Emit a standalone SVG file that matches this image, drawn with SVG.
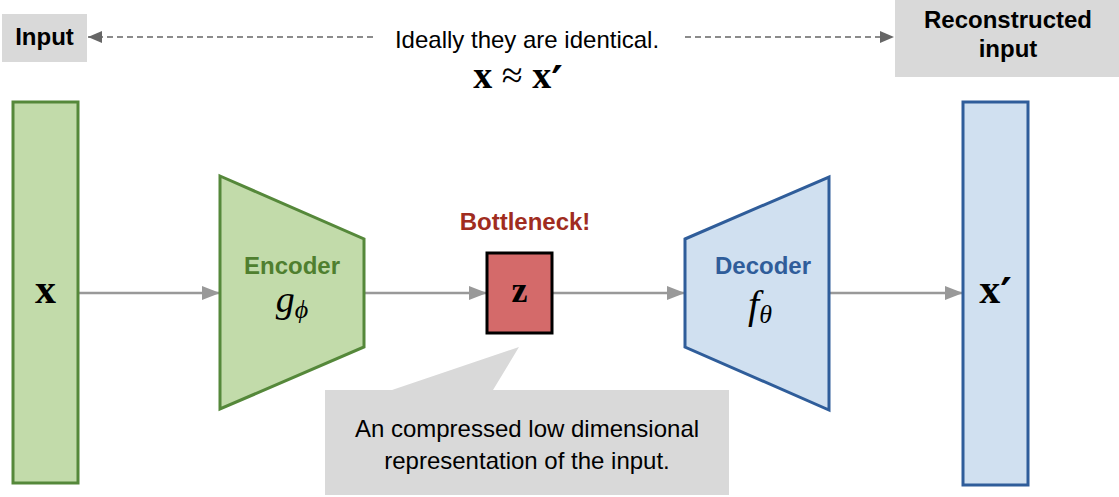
<svg xmlns="http://www.w3.org/2000/svg" width="1119" height="497" viewBox="0 0 1119 497">
<defs>
<marker id="ah" markerWidth="18" markerHeight="14" refX="18" refY="7" orient="auto" markerUnits="userSpaceOnUse"><path d="M0,0 L18,7 L0,14 Z" fill="#999"/></marker>
<marker id="ahd" markerWidth="14" markerHeight="12" refX="14" refY="6" orient="auto" markerUnits="userSpaceOnUse"><path d="M0,0 L14,6 L0,12 Z" fill="#666"/></marker>
</defs>
<style>
.sans{font-family:"Liberation Sans",Arial,sans-serif;font-size:24px}
.b{font-weight:bold}
.math{font-family:"Liberation Serif","Times New Roman",serif}
.pr{font-family:"DejaVu Serif",serif;font-weight:bold}
.lbl{fill:#d9d9d9}
.flow{stroke:#999;stroke-width:2.5;fill:none;marker-end:url(#ah)}
.dash{stroke:#666;stroke-width:1.5;stroke-dasharray:6 4;fill:none;marker-end:url(#ahd)}
</style>
<rect width="1119" height="497" fill="#fff"/>
<g id="connectors">
<line class="flow" x1="78" y1="293" x2="220" y2="293"/>
<line class="flow" x1="364" y1="293" x2="487" y2="293"/>
<line class="flow" x1="552" y1="293" x2="685" y2="293"/>
<line class="flow" x1="829" y1="293" x2="963" y2="293"/>
<line class="dash" x1="373" y1="37" x2="88" y2="37"/>
<line class="dash" x1="685" y1="37" x2="894" y2="37"/>
</g>
<g id="input-label">
<rect class="lbl" x="2" y="14" width="85" height="48"/>
<text class="sans b" x="44.5" y="45" text-anchor="middle" fill="#000">Input</text>
</g>
<g id="recon-label">
<rect class="lbl" x="895" y="0" width="224" height="77"/>
<text class="sans b" x="1008" y="28" text-anchor="middle" fill="#000">Reconstructed</text>
<text class="sans b" x="1008" y="57" text-anchor="middle" fill="#000">input</text>
</g>
<g id="ideal-note">
<text class="sans" x="527" y="48" text-anchor="middle" fill="#000">Ideally they are identical.</text>
<text class="math" x="518" y="88" text-anchor="middle" font-size="38" fill="#000"><tspan font-weight="bold">x</tspan> ≈ <tspan font-weight="bold">x</tspan><tspan class="pr" font-size="44" dy="10">′</tspan></text>
</g>
<g id="input-x">
<rect x="13" y="102" width="65" height="381" fill="#c2dbaa" stroke="#55883a" stroke-width="3"/>
<text class="math" x="45.5" y="303" text-anchor="middle" font-size="42" font-weight="bold" fill="#000">x</text>
</g>
<g id="encoder">
<polygon points="220,176 364,239 364,347 220,409" fill="#c2dbaa" stroke="#55883a" stroke-width="3"/>
<text class="sans b" x="292" y="274" text-anchor="middle" fill="#4f7f2f">Encoder</text>
<text class="math" x="292" y="312" text-anchor="middle" font-style="italic" font-size="38" fill="#000">g<tspan font-size="26" dy="6">ϕ</tspan></text>
</g>
<g id="bottleneck">
<text class="sans b" x="525" y="230" text-anchor="middle" fill="#a02c20">Bottleneck!</text>
<rect x="487" y="253" width="65" height="80" fill="#d46a6a" stroke="#000" stroke-width="3"/>
<text class="math" x="519.5" y="302" text-anchor="middle" font-size="36" font-weight="bold" fill="#000">z</text>
</g>
<g id="decoder">
<polygon points="685,239 829,177 829,410 685,347" fill="#d0e0f0" stroke="#2f5d9a" stroke-width="3"/>
<text class="sans b" x="763" y="274" text-anchor="middle" fill="#2f5d9a">Decoder</text>
<text class="math" x="760" y="318" text-anchor="middle" font-style="italic" font-size="40" fill="#000">f<tspan font-size="26" dy="5">θ</tspan></text>
</g>
<g id="output-x">
<rect x="963" y="102" width="65" height="383" fill="#d0e0f0" stroke="#2f5d9a" stroke-width="3"/>
<text class="math" x="995.5" y="303" text-anchor="middle" font-size="42" font-weight="bold" fill="#000">x<tspan class="pr" font-size="44" dy="7">′</tspan></text>
</g>
<g id="callout">
<path d="M325,390 L392,390 L519,347 L493,390 L729,390 L729,495 L325,495 Z" fill="#d9d9d9"/>
<text class="sans" x="527" y="437" text-anchor="middle" fill="#000">An compressed low dimensional</text>
<text class="sans" x="527" y="469" text-anchor="middle" fill="#000">representation of the input.</text>
</g>
</svg>
